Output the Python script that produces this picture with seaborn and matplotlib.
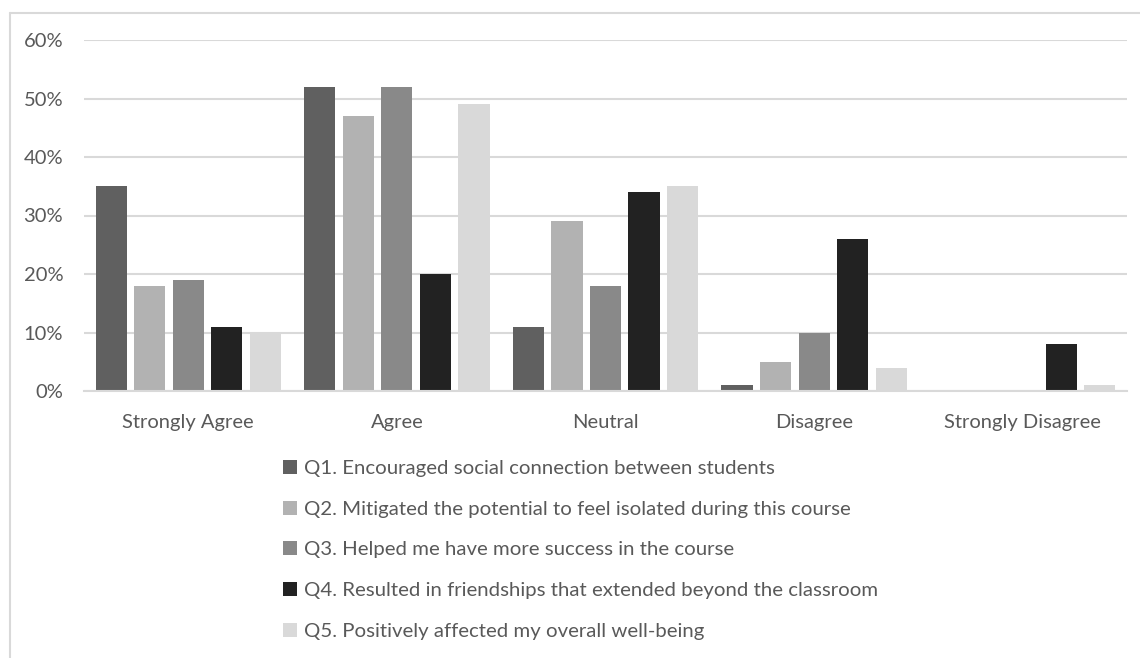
import matplotlib
matplotlib.use("Agg")
import matplotlib.pyplot as plt
import seaborn as sns
import pandas as pd
from matplotlib.lines import Line2D
from matplotlib.patches import Patch
from matplotlib.ticker import FuncFormatter

categories = ["Strongly Agree", "Agree", "Neutral", "Disagree", "Strongly Disagree"]
questions = [
    "Q1. Encouraged social connection between students",
    "Q2. Mitigated the potential to feel isolated during this course",
    "Q3. Helped me have more success in the course",
    "Q4. Resulted in friendships that extended beyond the classroom",
    "Q5. Positively affected my overall well-being",
]
q1 = [35, 52, 11, 1, 0]
q2 = [18, 47, 29, 5, 0]
q3 = [19, 52, 18, 10, 0]
q4 = [11, 20, 34, 26, 8]
q5 = [10, 49, 35, 4, 1]
colors = ["#606060", "#b2b2b2", "#898989", "#222222", "#d9d9d9"]

rows = []
for q, vals in zip(questions, [q1, q2, q3, q4, q5]):
    for c, v in zip(categories, vals):
        rows.append({"Category": c, "Question": q, "Value": v})
df = pd.DataFrame(rows)

sns.set_style("white")
plt.rcParams["font.family"] = ["Lato", "DejaVu Sans"]
text_color = "#595959"

fig = plt.figure(figsize=(11.4, 6.58), dpi=100)
ax = fig.add_axes([84/1140, 1-391/658, (1127-84)/1140, (391-40)/658])

sns.barplot(data=df, x="Category", y="Value", hue="Question", order=categories,
            hue_order=questions, palette=colors, width=0.923, gap=0.19,
            saturation=1, linewidth=0, edgecolor="none", ax=ax, legend=False)

ax.set_ylim(0, 60)
ax.set_xlim(-0.5, 4.5)
ax.set_yticks(range(0, 61, 10))
ax.yaxis.set_major_formatter(FuncFormatter(lambda v, p: f"{int(v)}%"))
ax.grid(axis="y", color="#d9d9d9", linewidth=1.5)
ax.set_axisbelow(True)
for s in ["top", "right", "left"]:
    ax.spines[s].set_visible(False)
ax.spines["bottom"].set_color("#d9d9d9")
ax.spines["bottom"].set_linewidth(1.5)
ax.tick_params(axis="both", length=0, labelsize=14.5, colors=text_color)
ax.tick_params(axis="x", pad=16.5)
ax.tick_params(axis="y", pad=15)
ax.set_xlabel("")
ax.set_ylabel("")

handles = [Patch(facecolor=c, edgecolor="none") for c in colors]
fig.legend(handles, questions, loc="upper left", bbox_to_anchor=(283/1140, 1-460/658),
           frameon=False, ncol=1, fontsize=14.7, labelcolor=text_color,
           handlelength=0.68, handleheight=0.68, handletextpad=0.35,
           labelspacing=1.15, borderaxespad=0, borderpad=0)

# outer chart border
fig.add_artist(Line2D([10/1140, 1.0], [1-13/658, 1-13/658], transform=fig.transFigure,
                      color="#d9d9d9", linewidth=1.5))
fig.add_artist(Line2D([10/1140, 10/1140], [0, 1-13/658], transform=fig.transFigure,
                      color="#d9d9d9", linewidth=1.5))

fig.savefig("out.png", dpi=100)
